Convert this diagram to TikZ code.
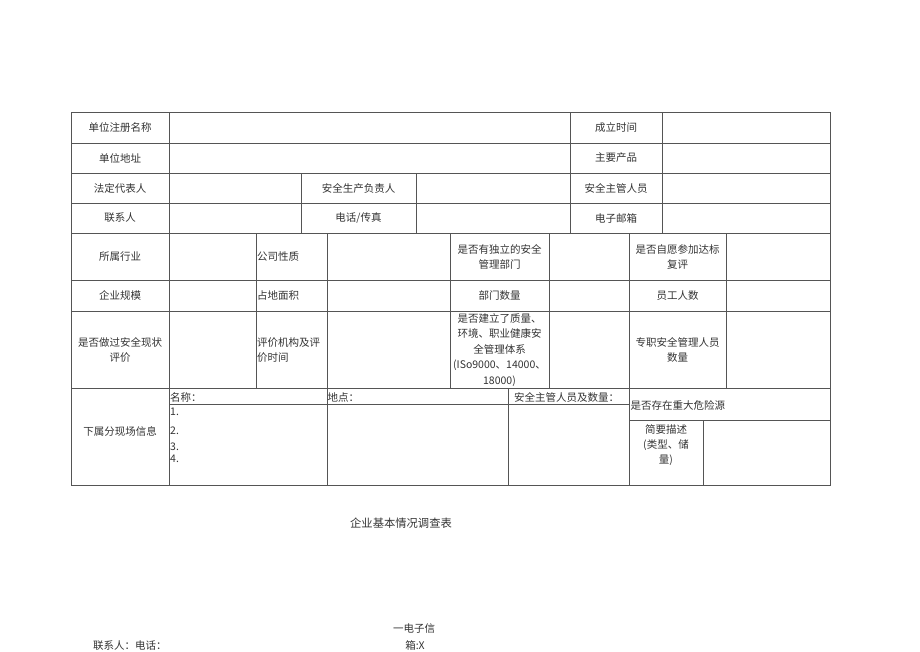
\documentclass[tikz,border=0pt]{standalone}
\usepackage{fontspec}
\setmainfont{Noto Sans CJK SC}
\definecolor{linec}{HTML}{555555}
\definecolor{txt}{HTML}{333333}
\tikzset{
  grid/.style={draw=linec, line width=0.9pt},
  cell/.style={font=\fontsize{10.5}{15}\selectfont, text=txt, inner sep=0pt, align=center},
  lcell/.style={cell, anchor=west, align=left},
}
\begin{document}
\begin{tikzpicture}[x=1pt,y=-1pt]
\useasboundingbox (0,0) rectangle (920,651);
% table lines
\draw[grid] (71,112) rectangle (830,485);
\draw[grid]
  (71,143) -- (830,143)
  (71,173) -- (830,173)
  (71,203) -- (830,203)
  (71,233) -- (830,233)
  (71,280) -- (830,280)
  (71,311) -- (830,311)
  (71,388) -- (830,388)
  (169,404) -- (629.5,404)
  (629.5,420) -- (830,420)
  (169,112) -- (169,485)
  (570,112) -- (570,233)
  (662,112) -- (662,233)
  (301,173) -- (301,233)
  (416,173) -- (416,233)
  (256,233) -- (256,388)
  (327,233) -- (327,485)
  (450,233) -- (450,388)
  (549,233) -- (549,388)
  (629.5,233) -- (629.5,485)
  (726,233) -- (726,388)
  (508,388) -- (508,485)
  (703,420) -- (703,485);
% rows 1-4
\node[cell] (r1a) at (120,127.5) {单位注册名称};
\node[cell] (r1b) at (616,127.5) {成立时间};
\node[cell] (r2a) at (120,158) {单位地址};
\node[cell] (r2b) at (616,158) {主要产品};
\node[cell] (r3a) at (120,188) {法定代表人};
\node[cell] (r3b) at (358.5,188) {安全生产负责人};
\node[cell] (r3c) at (616,188) {安全主管人员};
\node[cell] (r4a) at (120,218) {联系人};
\node[cell] (r4b) at (358.5,218) {电话/传真};
\node[cell] (r4c) at (616,218) {电子邮箱};
% rows 5-7
\node[cell] (r5a) at (120,256.5) {所属行业};
\node[lcell] (r5b) at (257,256.5) {公司性质};
\node[cell] (r5c) at (499.5,256.5) {是否有独立的安全\\管理部门};
\node[cell] (r5d) at (677.5,256.5) {是否自愿参加达标\\复评};
\node[cell] (r6a) at (120,295.5) {企业规模};
\node[lcell] (r6b) at (257,295.5) {占地面积};
\node[cell] (r6c) at (499.5,295.5) {部门数量};
\node[cell] (r6d) at (677.5,295.5) {员工人数};
\node[cell] (r7a) at (120,350) {是否做过安全现状\\评价};
\node[lcell] (r7b) at (257,350) {评价机构及评\\价时间};
\node[cell, font=\fontsize{10.5}{15.5}\selectfont] (r7c) at (499.5,350) {是否建立了质量、\\环境、职业健康安\\全管理体系\\(ISo9000、14000、\\18000)};
\node[cell] (r7d) at (677.5,350) {专职安全管理人员\\数量};
% row 8
\node[cell] (r8a) at (120,431) {下属分现场信息};
\node[lcell] (r8b) at (170,397) {名称：};
\node[lcell] (r8c) at (327.5,397) {地点：};
\node[lcell] (r8d) at (514,397) {安全主管人员及数量：};
\node[lcell] (r8e) at (630.5,405) {是否存在重大危险源};
\node[lcell] (n1) at (170,412) {1.};
\node[lcell] (n2) at (170,431) {2.};
\node[lcell] (n3) at (170,446.5) {3.};
\node[lcell] (n4) at (170,459) {4.};
\node[cell] (r8f) at (666,445.5) {简要描述\\(类型、储\\量)};
% below table
\node[cell, font=\fontsize{11.3}{14}\selectfont] (title) at (401,523) {企业基本情况调查表};
\node[cell] (mail1) at (414,629) {一电子信};
\node[cell] (mail2) at (415,645.5) {箱:X};
\node[lcell] (contact) at (93,645.5) {联系人：电话：};
\end{tikzpicture}
\end{document}
